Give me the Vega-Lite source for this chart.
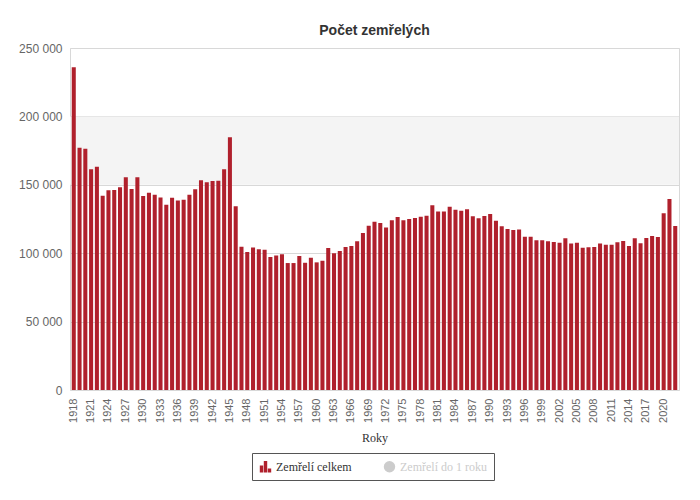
{
  "$schema": "https://vega.github.io/schema/vega-lite/v6.json",
  "width": 609,
  "height": 342,
  "autosize": "none",
  "padding": {"left": 70, "top": 48, "right": 21, "bottom": 110},
  "background": "white",
  "title": {
    "text": "Počet zemřelých",
    "font": "Liberation Sans",
    "fontSize": 14,
    "fontWeight": "bold",
    "color": "#333333",
    "anchor": "middle",
    "offset": 4
  },
  "config": {
    "view": {"stroke": "#d8d8d8"},
    "axis": {
      "labelFont": "Liberation Sans",
      "labelColor": "#666666",
      "gridColor": "#d8d8d8",
      "domain": false,
      "ticks": false
    }
  },
  "layer": [
    {
      "data": {"values": [{"od": 150000, "do": 200000}]},
      "mark": {"type": "rect", "color": "#f4f4f4"},
      "encoding": {
        "y": {
          "field": "od",
          "type": "quantitative",
          "scale": {"domain": [0, 250000]},
          "axis": {
            "title": null,
            "values": [0, 50000, 100000, 150000, 200000, 250000],
            "labelExpr": "replace(format(datum.value, ','), ',', ' ')",
            "labelFontSize": 12,
            "labelPadding": 8
          }
        },
        "y2": {"field": "do"}
      }
    },
    {
      "data": {
        "values": [
          {"rok": 1918, "zemreli": 235900, "serie": "Zemřelí celkem"},
          {"rok": 1919, "zemreli": 177100, "serie": "Zemřelí celkem"},
          {"rok": 1920, "zemreli": 176400, "serie": "Zemřelí celkem"},
          {"rok": 1921, "zemreli": 161300, "serie": "Zemřelí celkem"},
          {"rok": 1922, "zemreli": 163200, "serie": "Zemřelí celkem"},
          {"rok": 1923, "zemreli": 142000, "serie": "Zemřelí celkem"},
          {"rok": 1924, "zemreli": 146000, "serie": "Zemřelí celkem"},
          {"rok": 1925, "zemreli": 146200, "serie": "Zemřelí celkem"},
          {"rok": 1926, "zemreli": 148200, "serie": "Zemřelí celkem"},
          {"rok": 1927, "zemreli": 155500, "serie": "Zemřelí celkem"},
          {"rok": 1928, "zemreli": 146900, "serie": "Zemřelí celkem"},
          {"rok": 1929, "zemreli": 155500, "serie": "Zemřelí celkem"},
          {"rok": 1930, "zemreli": 141800, "serie": "Zemřelí celkem"},
          {"rok": 1931, "zemreli": 144200, "serie": "Zemřelí celkem"},
          {"rok": 1932, "zemreli": 142800, "serie": "Zemřelí celkem"},
          {"rok": 1933, "zemreli": 140800, "serie": "Zemřelí celkem"},
          {"rok": 1934, "zemreli": 135500, "serie": "Zemřelí celkem"},
          {"rok": 1935, "zemreli": 140600, "serie": "Zemřelí celkem"},
          {"rok": 1936, "zemreli": 138600, "serie": "Zemřelí celkem"},
          {"rok": 1937, "zemreli": 139100, "serie": "Zemřelí celkem"},
          {"rok": 1938, "zemreli": 142800, "serie": "Zemřelí celkem"},
          {"rok": 1939, "zemreli": 146700, "serie": "Zemřelí celkem"},
          {"rok": 1940, "zemreli": 153300, "serie": "Zemřelí celkem"},
          {"rok": 1941, "zemreli": 151800, "serie": "Zemřelí celkem"},
          {"rok": 1942, "zemreli": 152800, "serie": "Zemřelí celkem"},
          {"rok": 1943, "zemreli": 153000, "serie": "Zemřelí celkem"},
          {"rok": 1944, "zemreli": 161300, "serie": "Zemřelí celkem"},
          {"rok": 1945, "zemreli": 184700, "serie": "Zemřelí celkem"},
          {"rok": 1946, "zemreli": 134300, "serie": "Zemřelí celkem"},
          {"rok": 1947, "zemreli": 104800, "serie": "Zemřelí celkem"},
          {"rok": 1948, "zemreli": 100900, "serie": "Zemřelí celkem"},
          {"rok": 1949, "zemreli": 104200, "serie": "Zemřelí celkem"},
          {"rok": 1950, "zemreli": 102900, "serie": "Zemřelí celkem"},
          {"rok": 1951, "zemreli": 102600, "serie": "Zemřelí celkem"},
          {"rok": 1952, "zemreli": 97200, "serie": "Zemřelí celkem"},
          {"rok": 1953, "zemreli": 98300, "serie": "Zemřelí celkem"},
          {"rok": 1954, "zemreli": 99200, "serie": "Zemřelí celkem"},
          {"rok": 1955, "zemreli": 92800, "serie": "Zemřelí celkem"},
          {"rok": 1956, "zemreli": 92800, "serie": "Zemřelí celkem"},
          {"rok": 1957, "zemreli": 98000, "serie": "Zemřelí celkem"},
          {"rok": 1958, "zemreli": 93000, "serie": "Zemřelí celkem"},
          {"rok": 1959, "zemreli": 96700, "serie": "Zemřelí celkem"},
          {"rok": 1960, "zemreli": 93300, "serie": "Zemřelí celkem"},
          {"rok": 1961, "zemreli": 94500, "serie": "Zemřelí celkem"},
          {"rok": 1962, "zemreli": 103800, "serie": "Zemřelí celkem"},
          {"rok": 1963, "zemreli": 99900, "serie": "Zemřelí celkem"},
          {"rok": 1964, "zemreli": 101600, "serie": "Zemřelí celkem"},
          {"rok": 1965, "zemreli": 104500, "serie": "Zemřelí celkem"},
          {"rok": 1966, "zemreli": 105300, "serie": "Zemřelí celkem"},
          {"rok": 1967, "zemreli": 108700, "serie": "Zemřelí celkem"},
          {"rok": 1968, "zemreli": 114800, "serie": "Zemřelí celkem"},
          {"rok": 1969, "zemreli": 120100, "serie": "Zemřelí celkem"},
          {"rok": 1970, "zemreli": 123000, "serie": "Zemřelí celkem"},
          {"rok": 1971, "zemreli": 122000, "serie": "Zemřelí celkem"},
          {"rok": 1972, "zemreli": 118700, "serie": "Zemřelí celkem"},
          {"rok": 1973, "zemreli": 124000, "serie": "Zemřelí celkem"},
          {"rok": 1974, "zemreli": 126500, "serie": "Zemřelí celkem"},
          {"rok": 1975, "zemreli": 124000, "serie": "Zemřelí celkem"},
          {"rok": 1976, "zemreli": 125000, "serie": "Zemřelí celkem"},
          {"rok": 1977, "zemreli": 125700, "serie": "Zemřelí celkem"},
          {"rok": 1978, "zemreli": 126700, "serie": "Zemřelí celkem"},
          {"rok": 1979, "zemreli": 127400, "serie": "Zemřelí celkem"},
          {"rok": 1980, "zemreli": 135000, "serie": "Zemřelí celkem"},
          {"rok": 1981, "zemreli": 130400, "serie": "Zemřelí celkem"},
          {"rok": 1982, "zemreli": 130400, "serie": "Zemřelí celkem"},
          {"rok": 1983, "zemreli": 134000, "serie": "Zemřelí celkem"},
          {"rok": 1984, "zemreli": 131800, "serie": "Zemřelí celkem"},
          {"rok": 1985, "zemreli": 131100, "serie": "Zemřelí celkem"},
          {"rok": 1986, "zemreli": 132100, "serie": "Zemřelí celkem"},
          {"rok": 1987, "zemreli": 127000, "serie": "Zemřelí celkem"},
          {"rok": 1988, "zemreli": 125500, "serie": "Zemřelí celkem"},
          {"rok": 1989, "zemreli": 127200, "serie": "Zemřelí celkem"},
          {"rok": 1990, "zemreli": 128700, "serie": "Zemřelí celkem"},
          {"rok": 1991, "zemreli": 123800, "serie": "Zemřelí celkem"},
          {"rok": 1992, "zemreli": 119700, "serie": "Zemřelí celkem"},
          {"rok": 1993, "zemreli": 117700, "serie": "Zemřelí celkem"},
          {"rok": 1994, "zemreli": 117000, "serie": "Zemřelí celkem"},
          {"rok": 1995, "zemreli": 117400, "serie": "Zemřelí celkem"},
          {"rok": 1996, "zemreli": 112100, "serie": "Zemřelí celkem"},
          {"rok": 1997, "zemreli": 112100, "serie": "Zemřelí celkem"},
          {"rok": 1998, "zemreli": 109400, "serie": "Zemřelí celkem"},
          {"rok": 1999, "zemreli": 109400, "serie": "Zemřelí celkem"},
          {"rok": 2000, "zemreli": 108700, "serie": "Zemřelí celkem"},
          {"rok": 2001, "zemreli": 108200, "serie": "Zemřelí celkem"},
          {"rok": 2002, "zemreli": 107700, "serie": "Zemřelí celkem"},
          {"rok": 2003, "zemreli": 110900, "serie": "Zemřelí celkem"},
          {"rok": 2004, "zemreli": 107000, "serie": "Zemřelí celkem"},
          {"rok": 2005, "zemreli": 107700, "serie": "Zemřelí celkem"},
          {"rok": 2006, "zemreli": 104000, "serie": "Zemřelí celkem"},
          {"rok": 2007, "zemreli": 104300, "serie": "Zemřelí celkem"},
          {"rok": 2008, "zemreli": 104500, "serie": "Zemřelí celkem"},
          {"rok": 2009, "zemreli": 107000, "serie": "Zemřelí celkem"},
          {"rok": 2010, "zemreli": 106200, "serie": "Zemřelí celkem"},
          {"rok": 2011, "zemreli": 106200, "serie": "Zemřelí celkem"},
          {"rok": 2012, "zemreli": 108000, "serie": "Zemřelí celkem"},
          {"rok": 2013, "zemreli": 108900, "serie": "Zemřelí celkem"},
          {"rok": 2014, "zemreli": 105300, "serie": "Zemřelí celkem"},
          {"rok": 2015, "zemreli": 110900, "serie": "Zemřelí celkem"},
          {"rok": 2016, "zemreli": 107200, "serie": "Zemřelí celkem"},
          {"rok": 2017, "zemreli": 111100, "serie": "Zemřelí celkem"},
          {"rok": 2018, "zemreli": 112600, "serie": "Zemřelí celkem"},
          {"rok": 2019, "zemreli": 111800, "serie": "Zemřelí celkem"},
          {"rok": 2020, "zemreli": 129200, "serie": "Zemřelí celkem"},
          {"rok": 2021, "zemreli": 139600, "serie": "Zemřelí celkem"},
          {"rok": 2022, "zemreli": 119900, "serie": "Zemřelí celkem"}
        ]
      },
      "mark": {"type": "bar"},
      "encoding": {
        "x": {
          "field": "rok",
          "type": "ordinal",
          "scale": {"paddingInner": 0.3, "paddingOuter": 0.3},
          "axis": {
            "title": "Roky",
            "titleFont": "Liberation Serif",
            "titleFontSize": 12,
            "titleFontWeight": "normal",
            "titleColor": "#333333",
            "titlePadding": 10,
            "labelAngle": -90,
            "labelFontSize": 11,
            "labelPadding": 8,
            "values": [1918, 1921, 1924, 1927, 1930, 1933, 1936, 1939, 1942, 1945, 1948, 1951, 1954, 1957, 1960, 1963, 1966, 1969, 1972, 1975, 1978, 1981, 1984, 1987, 1990, 1993, 1996, 1999, 2002, 2005, 2008, 2011, 2014, 2017, 2020]
          }
        },
        "y": {
          "field": "zemreli",
          "type": "quantitative",
          "scale": {"domain": [0, 250000]},
          "axis": {
            "title": null,
            "values": [0, 50000, 100000, 150000, 200000, 250000],
            "labelExpr": "replace(format(datum.value, ','), ',', ' ')",
            "labelFontSize": 12,
            "labelPadding": 8
          }
        },
        "color": {
          "field": "serie",
          "type": "nominal",
          "scale": {
            "domain": ["Zemřelí celkem", "Zemřelí do 1 roku"],
            "range": ["#b0202c", "#cccccc"]
          },
          "legend": {
            "title": null,
            "orient": "none",
            "legendX": 182,
            "legendY": 405,
            "direction": "horizontal",
            "strokeColor": "#555555",
            "padding": 7,
            "labelFont": "Liberation Serif",
            "labelFontSize": 12,
            "columnPadding": 31,
            "symbolSize": 130,
            "encode": {
              "labels": {
                "update": {
                  "fill": {"signal": "datum.value === 'Zemřelí celkem' ? '#333333' : '#cccccc'"}
                }
              },
              "symbols": {
                "update": {
                  "shape": {"signal": "datum.value === 'Zemřelí celkem' ? 'M-1,1V-0.2H-0.4V1Z M-0.3,1V-1H0.3V1Z M0.4,1V0.3H1V1Z' : 'circle'"}
                }
              }
            }
          }
        },
        "tooltip": [
          {"field": "rok", "type": "ordinal", "title": "Rok"},
          {"field": "zemreli", "type": "quantitative", "title": "Zemřelí celkem"}
        ]
      }
    }
  ]
}
